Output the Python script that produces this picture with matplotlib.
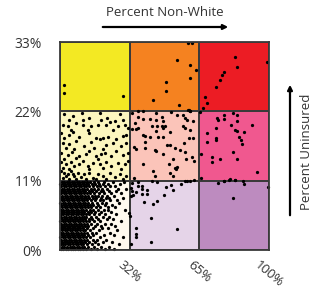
import matplotlib
matplotlib.use('Agg')
import matplotlib.pyplot as plt
from matplotlib.colors import ListedColormap
import numpy as np

plt.rcParams['font.family'] = ['Open Sans', 'DejaVu Sans']

# Grid of bivariate classes (rows: uninsured low->high, cols: non-white low->high)
x_edges = [0, 33.3, 66.7, 100]
y_edges = [0, 11, 22, 33]
x_tick_labels = ['32%', '65%', '100%']
y_tick_labels = ['0%', '11%', '22%', '33%']
cell_colors = [
    ['#fff9ee', '#e5d4e8', '#bd8bbf'],   # low uninsured
    ['#fcf6bf', '#fbc4b9', '#f0588f'],   # mid uninsured
    ['#f3e923', '#f58220', '#ec1c24'],   # high uninsured
]

# Sparse points read from the upper / right cells (percent non-white, percent uninsured)
top_x = [2.1, 2.1, 30.0, 61.2, 63.2, 56.0, 62.0, 65.2, 62.0, 50.7, 50.7, 44.5, 56.9,
         61.2, 62.0, 83.7, 84.8, 99.2, 78.6, 77.7, 76.6, 74.5, 69.4, 70.5, 68.4, 67.1]
top_y = [26.2, 24.9, 24.5, 32.9, 32.9, 30.2, 29.4, 28.6, 27.3, 26.6, 25.3, 23.8, 23.0,
         22.2, 22.1, 30.6, 29.0, 29.8, 28.2, 27.8, 27.0, 25.8, 24.2, 23.3, 22.6, 21.9]

pink_x = [75.0, 75.7, 78.6, 78.6, 82.9, 84.8, 84.8, 81.8, 92.0, 74.5, 83.7, 84.8, 88.0,
          70.5, 85.8, 74.5, 74.6, 86.4, 70.5, 86.9, 82.9, 67.5, 72.6, 76.6, 84.8, 72.6,
          94.1, 67.5, 81.3, 83.7, 78.6]
pink_y = [21.0, 20.6, 21.4, 20.8, 21.8, 21.4, 20.5, 19.8, 19.8, 19.3, 19.0, 18.9, 18.8,
          18.5, 17.9, 17.7, 17.5, 17.4, 17.1, 16.8, 15.6, 15.2, 14.8, 14.4, 14.4, 13.9,
          12.3, 11.5, 11.2, 11.1, 11.0]

salmon_x = [37.5, 39.6, 45.8, 53.0, 61.5, 62.3, 34.3, 37.2, 39.6, 43.1, 46.0, 48.7, 49.2,
            55.9, 58.8, 59.9, 60.7, 63.6, 35.9, 37.5, 43.9, 46.6, 48.7, 50.3, 49.5, 58.8,
            59.9, 62.3, 34.3, 36.4, 39.9, 40.7, 43.1, 46.0, 46.8, 49.5, 52.7, 61.5, 63.6,
            40.7, 51.1, 52.4, 55.1, 59.1, 57.2, 59.9, 35.4, 36.4, 40.7, 45.5, 46.0, 49.5,
            63.1, 63.9, 54.0, 60.4, 39.6, 55.1, 56.2, 55.6, 52.0, 44.7, 52.7, 54.3, 45.5,
            35.4, 62.0, 60.7, 63.9]
salmon_y = [22.0, 22.0, 21.8, 21.9, 22.2, 22.0, 21.8, 21.1, 20.8, 20.8, 20.6, 21.1, 20.5,
            21.4, 21.4, 20.9, 20.7, 20.5, 20.1, 19.4, 19.7, 19.6, 19.7, 19.7, 19.3, 19.7,
            19.4, 19.0, 19.2, 19.2, 18.3, 18.1, 18.0, 18.9, 18.0, 18.0, 18.8, 17.8, 17.7,
            17.1, 16.7, 16.6, 16.2, 16.9, 15.8, 15.5, 16.4, 16.0, 16.2, 15.8, 15.7, 15.2,
            14.8, 14.1, 14.4, 14.4, 13.7, 13.0, 13.2, 12.8, 13.7, 12.5, 12.2, 11.7, 11.7,
            11.4, 10.9, 11.0, 11.1]

low_right_x = [75.4, 78.5, 80.9, 83.7, 87.7, 87.9, 99.4, 82.8, 59.8, 57.9, 53.0, 53.9, 50.7,
               49.8, 46.6, 44.5, 40.3, 39.4, 39.4, 41.5, 41.5, 39.4, 37.2, 36.4, 37.5, 43.9,
               46.6, 35.1, 34.0, 34.6, 34.0, 34.3, 43.5, 55.8, 36.4, 36.4, 36.4, 43.5, 34.0,
               33.5, 33.0]
low_right_y = [10.7, 11.0, 11.1, 11.1, 11.0, 10.4, 10.0, 8.2, 11.0, 10.4, 10.3, 9.5, 10.0,
               8.8, 7.7, 7.3, 7.6, 10.2, 9.6, 9.5, 8.9, 8.9, 10.2, 9.2, 10.8, 11.0,
               10.8, 8.7, 8.5, 9.4, 9.9, 10.7, 5.0, 3.4, 3.5, 2.6, 2.0, 1.2, 0.9,
               5.4, 5.9]

# Middle-left (light yellow) cell
mid_left_x = [2.1, 6.4, 10.6, 11.2, 14.1, 18.9, 19.7, 22.4, 28.5, 30.1, 26.1, 4.5,
              1.3, 3.7, 7.7, 10.9, 14.9, 18.1, 22.1, 23.7, 27.7, 30.9, 32.5, 5.3, 13.3, 25.3,
              0.5, 4.2, 6.4, 9.3, 14.1, 17.3, 18.9, 20.5, 22.9, 26.9, 30.1, 31.7, 2.1,
              1.3, 4.5, 7.7, 11.7, 14.9, 16.5, 20.5, 22.1, 25.3, 29.3, 31.7, 6.9, 2.9,
              0.5, 3.7, 5.8, 9.3, 12.5, 14.1, 17.3, 19.7, 21.3, 24.5, 26.9, 30.1, 32.5, 7.7, 2.1,
              0.5, 2.9, 5.3, 6.9, 9.3, 10.9, 13.3, 15.7, 18.1, 18.9, 22.1, 24.5, 27.7, 30.9,
              32.5, 4.5, 14.1, 20.5, 29.3, 1.3,
              0.5, 2.1, 3.7, 5.3, 6.9, 8.5, 10.1, 11.7, 14.1, 15.7, 18.1, 20.5, 23.7, 26.1,
              28.5, 31.7, 1.3, 4.5, 7.7, 12.5, 17.3, 22.1, 30.1, 2.9, 6.1]
mid_left_y = [21.5, 21.3, 21.7, 20.7, 21.0, 21.7, 20.7, 21.0, 21.5, 20.7, 20.5, 20.7,
              19.9, 19.7, 20.2, 19.9, 19.7, 19.9, 19.9, 20.3, 19.7, 19.9, 19.4, 19.0, 19.0, 19.1,
              18.6, 18.3, 18.7, 18.0, 18.6, 17.8, 17.6, 17.7, 18.0, 17.6, 18.1, 18.3, 17.7,
              17.0, 16.8, 17.3, 16.5, 17.1, 16.2, 16.1, 16.6, 16.9, 16.5, 17.0, 16.0, 16.2,
              15.4, 15.0, 15.5, 14.9, 15.2, 15.7, 14.9, 15.2, 15.4, 14.9, 15.7, 15.0, 15.4, 14.6, 14.5,
              13.9, 13.6, 13.9, 13.3, 13.7, 14.1, 13.4, 13.8, 14.4, 13.6, 13.9, 13.3, 13.8, 13.6,
              14.1, 12.9, 12.9, 13.0, 12.8, 13.0,
              12.5, 12.2, 12.0, 12.5, 11.7, 12.2, 11.6, 12.0, 12.2, 11.5, 12.0, 11.7, 12.2, 11.6,
              12.0, 11.7, 11.5, 11.3, 11.2, 11.2, 11.2, 11.3, 11.2, 11.7, 12.0]

# Dense lower-left cell, read row by row
dense_rows_y = [0.2, 0.55, 0.9, 1.3, 1.65, 2.0, 2.4, 2.75, 3.1, 3.5, 3.85, 4.2, 4.6, 4.95, 5.3,
                5.7, 6.05, 6.4, 6.8, 7.15, 7.5, 7.9, 8.25, 8.6, 9.0, 9.35, 9.7, 10.1, 10.45, 10.8]
dense_rows_x = [
    [0.4, 1.5, 2.8, 3.9, 5.2, 6.1, 7.4, 8.6, 9.5, 10.9, 12.6, 14.8, 17.9, 21.5, 26.0],
    [0.9, 2.1, 3.3, 4.6, 5.7, 6.9, 8.0, 9.2, 10.4, 11.6, 13.5, 16.2, 19.8, 23.4],
    [0.3, 1.4, 2.6, 3.8, 5.0, 6.3, 7.5, 8.7, 9.9, 11.2, 12.9, 15.1, 18.4, 28.3],
    [1.0, 2.2, 3.4, 4.5, 5.8, 7.0, 8.2, 9.4, 10.6, 12.0, 14.0, 16.7, 20.6, 24.9],
    [0.5, 1.7, 2.9, 4.1, 5.3, 6.5, 7.7, 8.9, 10.1, 11.4, 13.1, 15.6, 17.8, 22.2],
    [0.2, 1.2, 2.4, 3.6, 4.8, 6.0, 7.2, 8.4, 9.7, 10.9, 12.4, 14.5, 19.2, 30.1],
    [0.8, 2.0, 3.2, 4.4, 5.6, 6.8, 8.0, 9.1, 10.3, 11.7, 13.6, 16.0, 21.0, 25.7],
    [0.4, 1.6, 2.8, 4.0, 5.1, 6.4, 7.6, 8.8, 10.0, 11.3, 12.8, 15.2, 17.4, 23.8],
    [1.1, 2.3, 3.5, 4.7, 5.9, 7.1, 8.3, 9.5, 10.8, 12.2, 14.3, 18.6, 27.4],
    [0.3, 1.4, 2.6, 3.8, 5.0, 6.2, 7.4, 8.6, 9.8, 11.0, 12.7, 15.9, 20.1, 22.8],
    [0.9, 2.1, 3.3, 4.5, 5.7, 6.9, 8.1, 9.3, 10.5, 11.8, 13.4, 16.8, 19.5, 26.5],
    [0.5, 1.7, 2.9, 4.1, 5.3, 6.5, 7.7, 8.9, 10.2, 11.5, 13.0, 14.7, 17.6, 21.7, 24.2],
    [0.2, 1.3, 2.5, 3.7, 4.9, 6.1, 7.3, 8.5, 9.6, 10.8, 12.3, 14.1, 16.3, 19.0, 29.0],
    [1.0, 2.2, 3.4, 4.6, 5.8, 7.0, 8.2, 9.4, 10.6, 11.9, 13.8, 15.5, 18.1, 22.5, 25.3],
    [0.6, 1.8, 3.0, 4.2, 5.4, 6.6, 7.8, 9.0, 10.3, 11.4, 12.6, 14.9, 17.0, 20.4, 23.6],
    [0.3, 1.5, 2.7, 3.9, 5.1, 6.3, 7.5, 8.7, 9.9, 11.1, 12.5, 13.9, 16.1, 18.8, 21.3, 27.0],
    [0.9, 2.1, 3.3, 4.5, 5.7, 6.9, 8.1, 9.3, 10.5, 11.7, 13.2, 15.0, 16.9, 19.7, 24.4],
    [0.4, 1.6, 2.8, 4.0, 5.2, 6.4, 7.6, 8.8, 10.0, 11.2, 12.5, 14.2, 15.8, 18.0, 20.9, 22.9, 31.2],
    [1.1, 2.3, 3.5, 4.7, 5.9, 7.1, 8.3, 9.5, 10.7, 11.9, 13.5, 14.8, 17.2, 19.3, 23.1, 26.2],
    [0.5, 1.7, 2.9, 4.1, 5.3, 6.5, 7.7, 8.9, 10.1, 11.4, 12.8, 14.4, 16.0, 18.4, 21.6, 25.0],
    [0.2, 1.3, 2.5, 3.7, 4.9, 6.1, 7.3, 8.5, 9.7, 10.9, 12.1, 13.6, 15.4, 17.5, 19.9, 22.2, 28.4],
    [0.8, 2.0, 3.2, 4.4, 5.6, 6.8, 8.0, 9.2, 10.4, 11.6, 13.0, 14.6, 16.6, 18.9, 20.7, 24.1, 27.1],
    [0.4, 1.6, 2.8, 4.0, 5.2, 6.4, 7.6, 8.8, 10.0, 11.3, 12.4, 13.9, 15.7, 17.3, 19.6, 21.9, 23.5, 30.2],
    [1.0, 2.2, 3.4, 4.6, 5.8, 7.0, 8.2, 9.4, 10.6, 11.8, 13.3, 15.1, 16.8, 18.2, 20.3, 22.6, 25.8],
    [0.6, 1.8, 3.0, 4.2, 5.4, 6.6, 7.8, 9.0, 10.2, 11.5, 12.7, 14.3, 16.4, 18.6, 21.2, 24.6, 29.3],
    [0.3, 1.4, 2.6, 3.8, 5.0, 6.2, 7.4, 8.6, 9.8, 11.0, 12.2, 13.7, 15.2, 17.1, 19.4, 20.8, 23.3, 26.8],
    [0.9, 2.1, 3.3, 4.5, 5.7, 6.9, 8.1, 9.3, 10.5, 11.7, 13.1, 14.6, 16.2, 18.0, 20.0, 22.4, 27.7, 31.6],
    [0.5, 1.7, 2.9, 4.1, 5.3, 6.5, 7.7, 8.9, 10.1, 11.3, 12.6, 14.0, 15.9, 17.7, 19.1, 21.4, 24.0, 26.3],
    [0.2, 1.3, 2.5, 3.7, 4.9, 6.1, 7.3, 8.5, 9.7, 10.9, 12.3, 13.6, 15.3, 16.9, 18.7, 20.5, 23.0, 28.9],
    [0.8, 2.0, 3.2, 4.4, 5.6, 6.8, 8.0, 9.2, 10.4, 11.6, 12.9, 14.5, 16.5, 18.3, 21.1, 25.5, 30.6],
]

fig = plt.figure(figsize=(3.18, 2.93), dpi=100)
ax = fig.add_axes([60 / 318, 1 - 250 / 293, 209 / 318, 208 / 293])

# Coloured class cells
cmap = ListedColormap([c for row in cell_colors for c in row])
idx = np.arange(9).reshape(3, 3)
ax.pcolormesh(x_edges, y_edges, idx, cmap=cmap, vmin=-0.5, vmax=8.5,
              edgecolor='#3a3a3a', linewidth=1.3)

# Points
dense_x = [x for row in dense_rows_x for x in row]
dense_y = [y for y, row in zip(dense_rows_y, dense_rows_x) for _ in row]
all_x = top_x + pink_x + salmon_x + low_right_x + mid_left_x + dense_x
all_y = top_y + pink_y + salmon_y + low_right_y + mid_left_y + dense_y
ax.scatter(all_x, all_y, s=5.5, c='black', linewidths=0, zorder=3, clip_on=False)

ax.set_xlim(0, 100)
ax.set_ylim(0, 33)
for s in ax.spines.values():
    s.set_color('#3a3a3a')
    s.set_linewidth(1.3)
    s.set_zorder(4)

ax.set_yticks(y_edges)
ax.set_yticklabels(y_tick_labels, fontsize=10, color='#333333')
ax.set_xticks(x_edges[1:])
ax.set_xticklabels(x_tick_labels, fontsize=9.5, color='#333333', rotation=-40,
                   ha='center', va='top')
ax.tick_params(length=0)
ax.tick_params(axis='y', pad=13)
ax.tick_params(axis='x', pad=6)

# Axis titles with arrows
fig.text(165 / 318, 1 - 13 / 293, 'Percent Non-White', ha='center', va='center',
         fontsize=9.5, color='#333333')
ax.annotate('', xy=(231 / 318, 1 - 27 / 293), xytext=(100 / 318, 1 - 27 / 293),
            xycoords='figure fraction', textcoords='figure fraction',
            arrowprops=dict(arrowstyle='-|>', lw=1.6, color='black', mutation_scale=7))
fig.text(307 / 318, 1 - 152 / 293, 'Percent Uninsured', ha='center', va='center',
         rotation=90, fontsize=9.5, color='#333333')
ax.annotate('', xy=(290 / 318, 1 - 82 / 293), xytext=(290 / 318, 1 - 218 / 293),
            xycoords='figure fraction', textcoords='figure fraction',
            arrowprops=dict(arrowstyle='-|>', lw=1.6, color='black', mutation_scale=7))

fig.savefig('out.png', dpi=100)
